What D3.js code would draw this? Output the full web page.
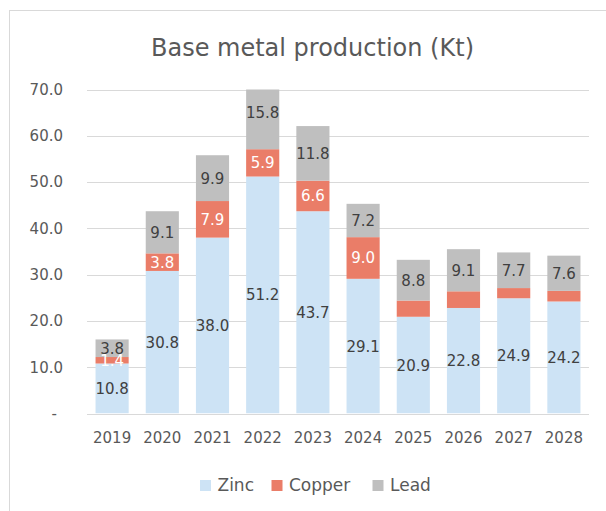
<!DOCTYPE html>
<html>
<head>
<meta charset="utf-8">
<script src="https://cdn.jsdelivr.net/npm/d3@7"></script>
<style>
  body { margin: 0; background: #fff; }
  svg { font-family: "DejaVu Sans", sans-serif; }
</style>
</head>
<body>
<div id="chart"></div>
<script>
const years = ["2019", "2020", "2021", "2022", "2023", "2024", "2025", "2026", "2027", "2028"];
const zinc = [10.8, 30.8, 38.0, 51.2, 43.7, 29.1, 20.9, 22.8, 24.9, 24.2];
const copper = [1.4, 3.8, 7.9, 5.9, 6.6, 9.0, 3.5, 3.6, 2.2, 2.3];
const lead = [3.8, 9.1, 9.9, 15.8, 11.8, 7.2, 8.8, 9.1, 7.7, 7.6];
// copper labels are not shown on the last four bars
const copperLabelYears = ["2019", "2020", "2021", "2022", "2023", "2024"];
const yTicks = [0, 10, 20, 30, 40, 50, 60, 70];

const series = [
  { name: "Zinc", values: zinc, color: "#cde3f5", text: "#404040" },
  { name: "Copper", values: copper, color: "#ea7d68", text: "#ffffff" },
  { name: "Lead", values: lead, color: "#bfbfbf", text: "#404040" }
];

const width = 606,
  height = 511;

const svg = d3
  .select("#chart")
  .append("svg")
  .attr("width", width)
  .attr("height", height);

// chart frame
svg
  .append("rect")
  .attr("x", 9.5)
  .attr("y", 10.5)
  .attr("width", 620)
  .attr("height", 520)
  .attr("fill", "#fff")
  .attr("stroke", "#d9d9d9");

svg
  .append("text")
  .attr("x", 312.5)
  .attr("y", 56)
  .attr("text-anchor", "middle")
  .attr("font-size", 24)
  .attr("fill", "#595959")
  .text("Base metal production (Kt)");

const x = d3
  .scaleBand()
  .domain(years)
  .range([87, 589])
  .paddingInner(0.34)
  .paddingOuter(0.17);

const y = d3.scaleLinear().domain([0, 70]).range([413.5, 89.5]);

// bars are cut at the axis maximum
svg
  .append("clipPath")
  .attr("id", "plot-clip")
  .append("rect")
  .attr("x", 87)
  .attr("y", y(70))
  .attr("width", 502)
  .attr("height", y(0) - y(70));

// grid lines
svg
  .append("g")
  .selectAll("line")
  .data(yTicks)
  .enter()
  .append("line")
  .attr("x1", 87)
  .attr("x2", 589)
  .attr("y1", (d) => Math.round(y(d)) + 0.5)
  .attr("y2", (d) => Math.round(y(d)) + 0.5)
  .attr("stroke", "#d9d9d9")
  .attr("stroke-width", 1);

// y axis labels
const yAxis = svg
  .append("g")
  .attr("transform", "translate(63,0)")
  .call(
    d3
      .axisLeft(y)
      .tickValues(yTicks)
      .tickSize(0)
      .tickPadding(0)
      .tickFormat((d) => (d === 0 ? "-" : d.toFixed(1)))
  );
yAxis.select(".domain").remove();
yAxis
  .selectAll("text")
  .attr("font-size", 15)
  .attr("font-family", "DejaVu Sans")
  .attr("fill", "#595959")
  .attr("dx", (d) => (d === 0 ? -6 : 0));

// stacked bars
const rows = years.map((yr, i) => {
  const r = { year: yr };
  series.forEach((s) => (r[s.name] = s.values[i]));
  return r;
});
const stack = d3.stack().keys(series.map((s) => s.name))(rows);

const layers = svg
  .append("g")
  .attr("clip-path", "url(#plot-clip)")
  .selectAll("g")
  .data(stack)
  .enter()
  .append("g")
  .attr("fill", (d, i) => series[i].color);

layers
  .selectAll("rect")
  .data((d) => d)
  .enter()
  .append("rect")
  .attr("x", (d) => x(d.data.year))
  .attr("width", x.bandwidth())
  .attr("y", (d) => y(d[1]))
  .attr("height", (d) => y(d[0]) - y(d[1]));

// data labels
stack.forEach((layer, i) => {
  const s = series[i];
  svg
    .append("g")
    .selectAll("text")
    .data(layer.filter((d) => s.name !== "Copper" || copperLabelYears.includes(d.data.year)))
    .enter()
    .append("text")
    .attr("x", (d) => x(d.data.year) + x.bandwidth() / 2)
    .attr("y", (d) => (y(d[0]) + y(d[1])) / 2)
    .attr("dy", "0.36em")
    .attr("text-anchor", "middle")
    .attr("font-size", 15)
    .attr("fill", s.text)
    .text((d) => s.values[years.indexOf(d.data.year)].toFixed(1));
});

// x axis
const xAxis = svg
  .append("g")
  .attr("transform", "translate(0,413.5)")
  .call(d3.axisBottom(x).tickSize(0).tickPadding(19));
xAxis.select(".domain").remove();
xAxis
  .selectAll("text")
  .attr("font-size", 15)
  .attr("font-family", "DejaVu Sans")
  .attr("fill", "#595959");

// legend
const legendX = [200, 271.5, 372.5];
const legend = svg
  .append("g")
  .selectAll("g")
  .data(series)
  .enter()
  .append("g")
  .attr("transform", (d, i) => `translate(${legendX[i]},480)`);
legend
  .append("rect")
  .attr("width", 11)
  .attr("height", 11)
  .attr("fill", (d) => d.color);
legend
  .append("text")
  .attr("x", 17.5)
  .attr("y", 11)
  .attr("font-size", 17)
  .attr("fill", "#595959")
  .text((d) => d.name);
</script>
</body>
</html>
